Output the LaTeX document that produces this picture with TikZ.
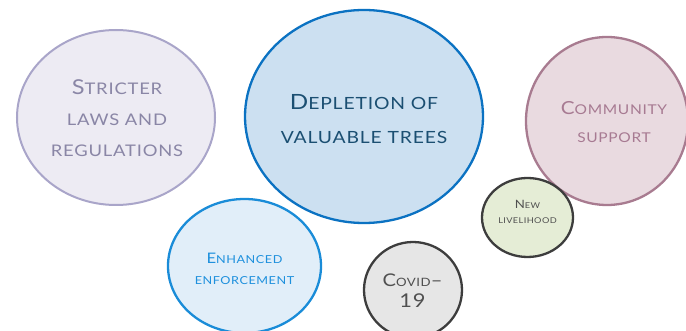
\documentclass[tikz,border=0pt]{standalone}
\usepackage{fontspec}
\setmainfont[FakeStretch=1.15,LetterSpace=5]{Lato}
\usetikzlibrary{shapes.geometric}
\definecolor{stFill}{HTML}{EDEBF3}\definecolor{stLine}{HTML}{A9A5C9}\definecolor{stText}{HTML}{8A86A6}
\definecolor{dpFill}{HTML}{CCE0F1}\definecolor{dpLine}{HTML}{0B72C2}\definecolor{dpText}{HTML}{1B4F72}
\definecolor{cmFill}{HTML}{E9DAE0}\definecolor{cmLine}{HTML}{A87B90}\definecolor{cmText}{HTML}{A77A92}
\definecolor{nlFill}{HTML}{E5EDD6}\definecolor{dkLine}{HTML}{3D3D3D}\definecolor{dkText}{HTML}{505050}
\definecolor{enFill}{HTML}{E1EEF9}\definecolor{enLine}{HTML}{1A8CD8}\definecolor{enText}{HTML}{1E90DD}
\definecolor{cvFill}{HTML}{E6E6E6}
\newcommand\Sm[2]{{\fontsize{#1}{#1}\selectfont #2}}
\tikzset{
  bubble/.style={ellipse, inner sep=0pt, line width=2.3pt},
  label text/.style={align=center, inner sep=0pt}
}
\begin{document}
\begin{tikzpicture}[x=1pt,y=-1pt]
\useasboundingbox (0,0) rectangle (686,331);
\clip (0,0) rectangle (686,331);
% bubbles
\node[bubble, line width=2pt, draw=stLine, fill=stFill, minimum width=198pt, minimum height=175pt] (strict) at (116,117.5) {};
\node[bubble, draw=dpLine, fill=dpFill, minimum width=238pt, minimum height=213pt] (deplete) at (364,116.5) {};
\node[bubble, draw=cmLine, fill=cmFill, minimum width=162pt, minimum height=168pt] (community) at (607,121) {};
\node[bubble, draw=dkLine, fill=nlFill, minimum width=91pt, minimum height=79pt] (newlive) at (527.5,217.5) {};
\node[bubble, draw=enLine, fill=enFill, minimum width=153pt, minimum height=134pt] (enhance) at (244.5,266) {};
\node[bubble, draw=dkLine, fill=cvFill, minimum width=98pt, minimum height=96pt] (covid) at (413,290) {};
% texts
\node[label text, text=stText, font=\fontsize{20.5}{31}\selectfont] (strictT) at (117,118)
  {S\Sm{16}{TRICTER}\\ \Sm{16}{LAWS AND}\\ \Sm{16}{REGULATIONS}};
\node[label text, text=dpText, font=\fontsize{21}{34}\selectfont] (depleteT) at (364,119)
  {D\Sm{16.8}{EPLETION OF}\\ \Sm{16.8}{VALUABLE TREES}};
\node[label text, text=cmText, font=\fontsize{18}{28}\selectfont] (communityT) at (614,122)
  {C\Sm{13.5}{OMMUNITY}\\ \Sm{13.5}{SUPPORT}};
\node[label text, text=dkText, font=\fontsize{11.5}{15}\selectfont] (newliveT) at (527.5,211.5)
  {N\Sm{8}{EW}\\ \Sm{8}{LIVELIHOOD}};
\node[label text, text=enText, font=\fontsize{14.5}{21}\selectfont] (enhanceT) at (244.5,269)
  {E\Sm{11}{NHANCED}\\ \Sm{11}{ENFORCEMENT}};
\node[label text, text=dkText, font=\fontsize{17.5}{21}\selectfont] (covidT) at (412.5,291)
  {C\Sm{11.5}{OVID}--\\ \Sm{19}{19}};
\end{tikzpicture}
\end{document}
